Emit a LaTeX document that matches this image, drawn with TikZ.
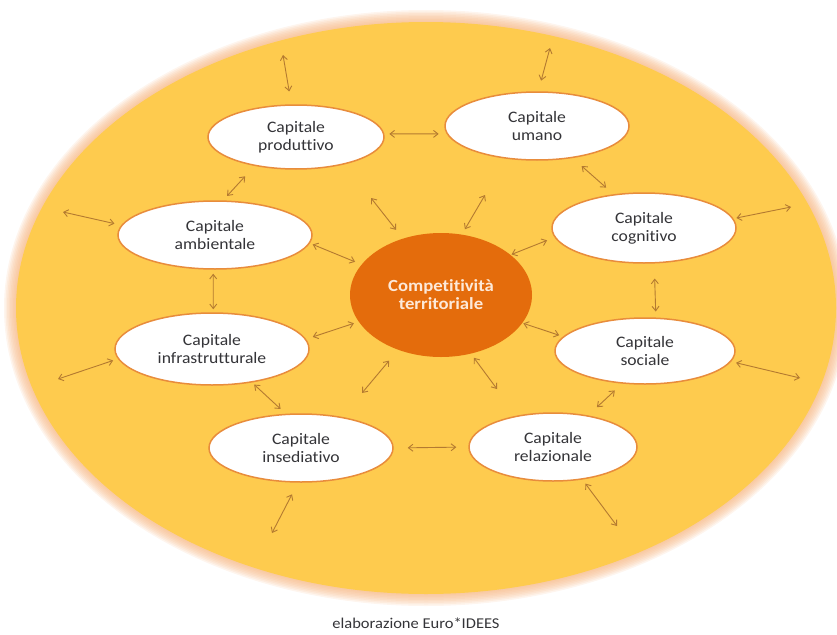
\documentclass[tikz,border=0pt]{standalone}
\usepackage{fontspec}
\setmainfont{Carlito}[FakeStretch=1.1, Ligatures=NoCommon]
\usetikzlibrary{shapes.geometric}
\usetikzlibrary{arrows.meta}
\definecolor{gold}{RGB}{254,203,78}
\definecolor{glow}{RGB}{246,176,120}
\definecolor{rim}{RGB}{232,140,60}
\definecolor{compfill}{RGB}{228,108,12}
\definecolor{comptext}{RGB}{253,233,217}
\definecolor{arrowc}{RGB}{180,122,48}
\definecolor{ink}{RGB}{52,52,56}
\tikzset{
  capnode/.style={ellipse, draw=rim, line width=1.5pt, fill=white, text=ink,
    inner sep=0pt, align=center, font=\fontsize{16}{18}\selectfont},
  arrowlink/.style={draw=arrowc, line width=0.9pt,
    {Straight Barb[length=4.5pt,width=7pt]}-{Straight Barb[length=4.5pt,width=7pt]}},
}
\begin{document}
\begin{tikzpicture}[x=1pt, y=-1pt]
    \useasboundingbox (0,0) rectangle (837,634);

    % background disc with a soft edge
    \foreach \d in {12,10.5,...,1.5} {
        \fill[glow, opacity=0.13] (426,308) ellipse [x radius=410pt+\d pt, y radius=286pt+\d pt];
    }
    \fill[gold] (426,308) ellipse [x radius=410pt, y radius=286pt];

    % capitals
    \node[capnode, minimum width=176pt, minimum height=64pt] (prod) at (296,137) {Capitale\\produttivo};
    \node[capnode, minimum width=184pt, minimum height=68pt] (uman) at (537,126) {Capitale\\umano};
    \node[capnode, minimum width=194pt, minimum height=68pt] (amb)  at (215,235) {Capitale\\ambientale};
    \node[capnode, minimum width=184pt, minimum height=70pt] (cogn) at (644,228) {Capitale\\cognitivo};
    \node[capnode, minimum width=194pt, minimum height=72pt] (infr) at (212,349) {Capitale\\infrastrutturale};
    \node[capnode, minimum width=180pt, minimum height=66pt] (soci) at (645,351) {Capitale\\sociale};
    \node[capnode, minimum width=184pt, minimum height=68pt] (insd) at (301,448) {Capitale\\insediativo};
    \node[capnode, minimum width=168pt, minimum height=68pt] (rela) at (553,447) {Capitale\\relazionale};

    \node[ellipse, fill=compfill, inner sep=0pt, minimum width=182pt, minimum height=124pt,
        text=comptext, align=center, font=\fontsize{17}{18}\selectfont\bfseries]
        (comp) at (441,295) {Competitività\\territoriale};

    % links between nodes
    \foreach \a/\b/\s/\t in {prod.2/uman.185/5/8, prod.215/amb.77/14/6, uman.318/cogn.132/12/10,
        amb.355/comp.159/3/7, cogn.186/comp.30/8/1, amb.267/infr.88/4/3,
        cogn.286/soci.72/15/6, infr.6/comp.198/7/5, soci.170/comp.341/4/1,
        infr.320/insd.114/3/7, soci.235/rela.42/10/12, insd.0/rela.180/14/12} {
        \draw[arrowlink, shorten <=\s pt, shorten >=\t pt] (\a) -- (\b);
    }

    % links to the outside
    \coordinate (prod-out) at (283,55);
    \coordinate (uman-out) at (550,48);
    \coordinate (amb-out)  at (63,212);
    \coordinate (cogn-out) at (791,207);
    \coordinate (comp-nw)  at (371,198);
    \coordinate (comp-ne)  at (485,195);
    \coordinate (infr-out) at (58,379);
    \coordinate (soci-out) at (800,378);
    \coordinate (comp-sw)  at (362,393);
    \coordinate (comp-se)  at (497,389);
    \coordinate (insd-out) at (272,533);
    \coordinate (rela-out) at (617,526);
    \foreach \a/\b/\t in {prod-out/prod.98/13, uman-out/uman.88/11, amb-out/amb.174/7,
        cogn-out/cogn.6/3, comp-nw/comp.124/11, comp-ne/comp.71/6, infr-out/infr.186/5,
        soci-out/soci.353/5, comp-sw/comp.232/14, comp-se/comp.297/5,
        insd-out/insd.265/13, rela-out/rela.312/5} {
        \draw[arrowlink, shorten >=\t pt] (\a) -- (\b);
    }

    \node[font=\fontsize{15}{18}\selectfont, text=ink, anchor=base] (credit) at (416,628) {elaborazione Euro*IDEES};
\end{tikzpicture}
\end{document}
